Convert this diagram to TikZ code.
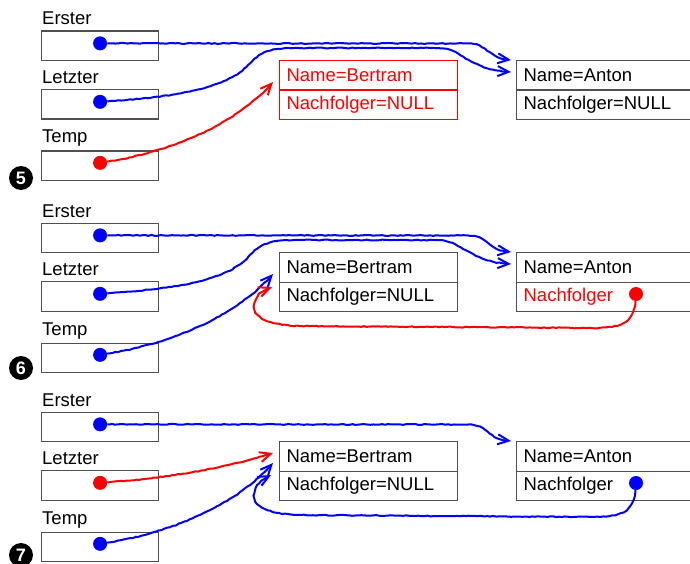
\documentclass[tikz,border=0pt]{standalone}
\usepackage{fontspec}
\setmainfont{Liberation Sans}
\usetikzlibrary{arrows.meta,decorations.pathmorphing}

\definecolor{ptrblue}{RGB}{0,0,255}
\definecolor{ptrred}{RGB}{255,0,0}
\definecolor{boxgray}{RGB}{80,80,80}

\tikzset{
  lbl/.style={anchor=base west, inner sep=0pt, font=\fontsize{18.5}{20}\selectfont},
  varbox/.style={draw=boxgray, line width=1.2pt, minimum width=117pt,
    minimum height=29.5pt, inner sep=0pt, anchor=north west},
  field/.style={draw=boxgray, line width=1.2pt, minimum height=29.5pt,
    text width=164pt, inner xsep=7pt, inner ysep=0pt, align=left,
    anchor=north west, font=\fontsize{18.5}{20}\selectfont},
  widefield/.style={field, text width=186pt},
  ptrdot/.style={circle, fill, inner sep=0pt, minimum size=14pt},
  ptr/.style={line width=2pt,
    -{Straight Barb[length=11pt,width=10pt,line width=2pt]},
    decorate, decoration={random steps, segment length=3pt, amplitude=0.45pt,
      pre length=2pt, post length=6pt}},
  stepmark/.style={circle, fill=black, text=white, inner sep=0pt,
    minimum size=24pt, font=\bfseries\fontsize{18}{18}\selectfont},
}

\begin{document}
\begin{tikzpicture}[x=1pt, y=-1pt]
\clip (0,0) rectangle (690,564);
\pgfmathsetseed{7}

% the three pointer variables of every state
\foreach \p/\dy in {a/0, b/192, c/381}{
  \begin{scope}[shift={(0,\dy)}]
    \node[lbl] (lerster\p) at (42,25) {Erster};
    \node[varbox] (erster\p) at (41,30.5) {};
    \node[lbl] (lletzter\p) at (42,83.5) {Letzter};
    \node[varbox] (letzter\p) at (41,89) {};
    \node[lbl] (ltemp\p) at (42,143) {Temp};
    \node[varbox] (temp\p) at (41,150.5) {};
    % the Anton element
    \node[widefield] (aname\p) at (516,60) {Name=Anton};
    % Erster -> Anton
    \node[ptrdot, ptrblue] (derster\p) at ([yshift=2.5pt]erster\p.center) {};
    \coordinate (terster\p) at (511,60);
    \draw[ptr, ptrblue] (derster\p) -- (468,43.5)
      .. controls (488,43.5) and (486,58) .. (terster\p);
  \end{scope}
}

% ---------- state 5 ----------
\node[stepmark] (s5) at (21,178) {5};
\node[field, draw=ptrred, text=ptrred] (bnamea) at (279,60) {Name=Bertram};
\node[field, draw=ptrred, text=ptrred] (bnexta) at (279,89.5) {Nachfolger=NULL};
\node[widefield] (anexta) at (516,89.5) {Nachfolger=NULL};
\node[ptrdot, ptrblue] (dletztera) at ([yshift=2.5pt]letztera.center) {};
\node[ptrdot, ptrred] (dtempa) at ([yshift=3pt]tempa.center) {};
\coordinate (tletztera) at (511,72);
\coordinate (ttempa) at (273,82);
\draw[ptr, ptrblue] (dletztera) .. controls (170,97) and (225,90) .. (248,65)
  .. controls (260,52) and (270,48) .. (295,48) -- (438,48)
  .. controls (462,48) and (468,70) .. (tletztera);
\draw[ptr, ptrred] (dtempa) .. controls (180,150) and (240,120) .. (ttempa);

% ---------- state 6 ----------
\begin{scope}[shift={(0,192)}]
  \node[stepmark] (s6) at (21,176) {6};
  \node[field] (bnameb) at (279,60) {Name=Bertram};
  \node[field] (bnextb) at (279,89.5) {Nachfolger=NULL};
  \node[widefield, text=ptrred] (anextb) at (516,89.5) {Nachfolger};
  \node[ptrdot, ptrblue] (dletzterb) at ([yshift=2.5pt]letzterb.center) {};
  \node[ptrdot, ptrblue] (dtempb) at ([yshift=3pt]tempb.center) {};
  \node[ptrdot, ptrred] (dnextb) at (636,102) {};
  \coordinate (tletzterb) at (511,72);
  \coordinate (ttempb) at (273,82);
  \coordinate (tnextb) at (272,95);
  \draw[ptr, ptrblue] (dletzterb) .. controls (170,97) and (225,90) .. (248,65)
    .. controls (260,52) and (270,48) .. (295,48) -- (438,48)
    .. controls (462,48) and (468,70) .. (tletzterb);
  \draw[ptr, ptrblue] (dtempb) .. controls (180,150) and (240,120) .. (ttempb);
  \draw[ptr, ptrred] (dnextb) .. controls (634,130) and (622,136) .. (592,136)
    -- (300,134) .. controls (262,133) and (250,122) .. (255,110)
    .. controls (257,103) and (261,99) .. (tnextb);
\end{scope}

% ---------- state 7 ----------
\begin{scope}[shift={(0,381)}]
  \node[stepmark] (s7) at (21,174) {7};
  \node[field] (bnamec) at (279,60) {Name=Bertram};
  \node[field] (bnextc) at (279,89.5) {Nachfolger=NULL};
  \node[widefield] (anextc) at (516,89.5) {Nachfolger};
  \node[ptrdot, ptrred] (dletzterc) at ([yshift=2.5pt]letzterc.center) {};
  \node[ptrdot, ptrblue] (dtempc) at ([yshift=3pt]tempc.center) {};
  \node[ptrdot, ptrblue] (dnextc) at (636,102) {};
  \coordinate (tletzterc) at (273,72);
  \coordinate (ttempc) at (273,82);
  \coordinate (tnextc) at (271,94);
  \draw[ptr, ptrred] (dletzterc) .. controls (170,97) and (230,86) .. (tletzterc);
  \draw[ptr, ptrblue] (dtempc) .. controls (180,150) and (240,120) .. (ttempc);
  \draw[ptr, ptrblue] (dnextc) .. controls (634,130) and (622,136) .. (592,136)
    -- (300,134) .. controls (262,133) and (250,122) .. (255,110)
    .. controls (257,103) and (261,99) .. (tnextc);
\end{scope}
\end{tikzpicture}
\end{document}
